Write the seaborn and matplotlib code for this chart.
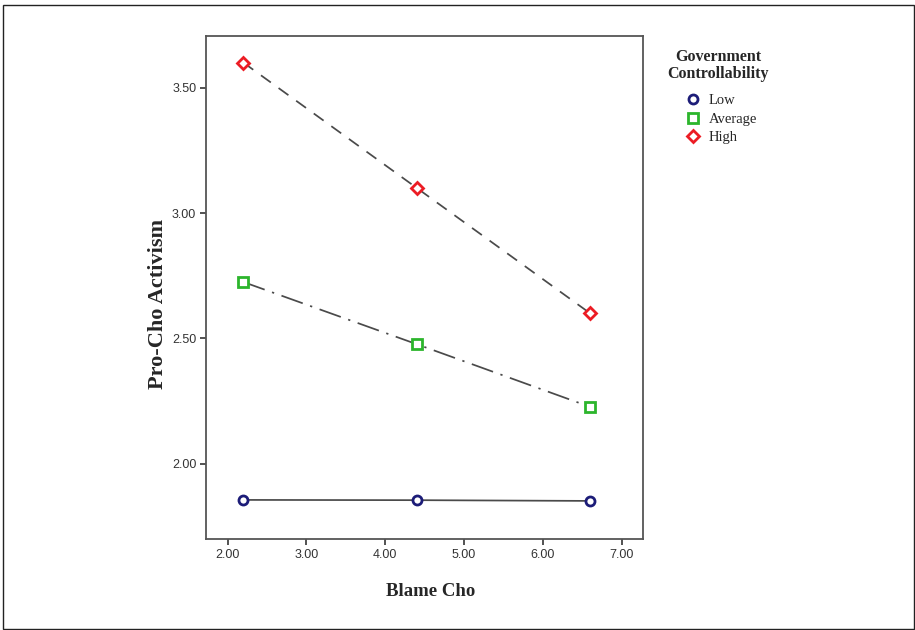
import numpy as np
import pandas as pd
import seaborn as sns
import matplotlib.pyplot as plt
from matplotlib.lines import Line2D
from matplotlib.patches import Rectangle

# values
blame = [2.2, 4.4, 6.6]
low = [1.856, 1.855, 1.852]
average = [2.725, 2.477, 2.227]
high = [3.60, 3.10, 2.60]
groups = ['Low', 'Average', 'High']
x_ticks = [2.0, 3.0, 4.0, 5.0, 6.0, 7.0]
y_ticks = [2.0, 2.5, 3.0, 3.5]

df = pd.DataFrame({
    'Blame Cho': blame * 3,
    'Pro-Cho Activism': low + average + high,
    'group': np.repeat(groups, len(blame)),
})

palette = {'Low': '#1c1c78', 'Average': '#2cb52c', 'High': '#ec1c24'}
markers = {'Low': 'o', 'Average': 's', 'High': 'D'}
dashes = {'Low': '', 'Average': (13, 4.5, 1.3, 4.5), 'High': (7, 5.5)}

sns.set_style('white')
plt.rcParams['font.family'] = ['DejaVu Sans']

fig = plt.figure(figsize=(9.15, 6.3), dpi=100)
ax = fig.add_axes([0.2251, 0.1444, 0.4776, 0.7984])

# lines (grey, different dash styles)
sns.lineplot(data=df, x='Blame Cho', y='Pro-Cho Activism', style='group',
             dashes=dashes, color='#4a4a4a', linewidth=1.25, legend=False, ax=ax)
n_lines = len(ax.lines)

# hollow coloured markers
sns.lineplot(data=df, x='Blame Cho', y='Pro-Cho Activism', hue='group',
             style='group', palette=palette, markers=markers, dashes=False,
             linestyle='', markersize=6.5, markerfacecolor='white',
             legend=False, ax=ax)
for ln in ax.lines[n_lines:]:
    ln.set_markeredgecolor(ln.get_color())
    ln.set_markeredgewidth(2.0)
    ln.set_zorder(3)

ax.set_xlim(1.725, 7.27)
ax.set_ylim(1.70, 3.706)
ax.set_xticks(x_ticks)
ax.set_yticks(y_ticks)
ax.set_xticklabels([f'{v:.2f}' for v in x_ticks])
ax.set_yticklabels([f'{v:.2f}' for v in y_ticks])
ax.tick_params(axis='both', direction='out', length=4, width=1.3, color='#444444',
               labelsize=9, labelcolor='#333333', pad=3, bottom=True, left=True)
for lab in ax.get_xticklabels() + ax.get_yticklabels():
    lab.set_fontfamily('Liberation Sans')
for sp in ax.spines.values():
    sp.set_color('#555555')
    sp.set_linewidth(1.3)

ax.set_xlabel('Blame Cho', fontfamily='Liberation Serif', fontweight='bold',
              fontsize=13.5, va='top')
ax.set_ylabel('Pro-Cho Activism', fontfamily='Liberation Serif', fontweight='bold',
              fontsize=16)
ax.xaxis.set_label_coords(0.515, -0.087)
ax.yaxis.set_label_coords(-0.088, 0.467)

handles = [Line2D([], [], linestyle='', marker=markers[g], markersize=6.5,
                  markerfacecolor='white', markeredgecolor=palette[g],
                  markeredgewidth=2.0) for g in groups]
leg = fig.legend(handles, groups, loc='upper center', bbox_to_anchor=(718 / 915, 1 - 42 / 630),
                 frameon=False, title='Government\nControllability', alignment='center',
                 prop={'family': 'Liberation Serif', 'size': 10.5},
                 title_fontproperties={'family': 'Liberation Serif', 'weight': 'bold', 'size': 11.5},
                 handlelength=1.9, handletextpad=0.16, labelspacing=0.36, borderpad=0)
leg.get_title().set_linespacing(1.1)
leg.get_title().set_multialignment('center')
leg._legend_box.sep = 0.36 * 14.6 + 3  # a little extra room under the title

# thin frame around the whole picture
fig.patches.append(Rectangle((3 / 915, 1 / 630), 911 / 915, 624 / 630, transform=fig.transFigure,
                             fill=False, edgecolor='#222222', linewidth=1.0))

fig.savefig('out.png', dpi=100)
